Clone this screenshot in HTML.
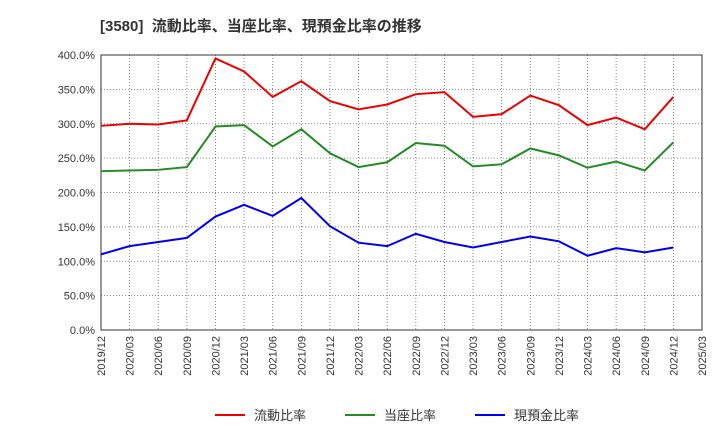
<!DOCTYPE html>
<html><head><meta charset="utf-8"><style>
body{margin:0;background:#fff;font-family:"Liberation Sans","Noto Sans CJK JP",sans-serif;}
</style></head><body>
<svg id="c" width="720" height="440" xmlns="http://www.w3.org/2000/svg">
<text x="100" y="31" font-size="15" font-weight="bold" fill="#333" style="white-space:pre" font-family="Liberation Sans, Noto Sans CJK JP, sans-serif">[3580]  流動比率、当座比率、現預金比率の推移</text>
<g id="grid"></g><g id="axes"></g><g id="series"></g>
<g font-size="13" font-family="Liberation Sans, Noto Sans CJK JP, sans-serif" fill="#333">
<line x1="215" y1="415" x2="245" y2="415" stroke="#e00" stroke-width="2"/><text x="254" y="420">流動比率</text>
<line x1="345" y1="415" x2="375" y2="415" stroke="#228b22" stroke-width="2"/><text x="384" y="420">当座比率</text>
<line x1="475" y1="415" x2="505" y2="415" stroke="#00e" stroke-width="2"/><text x="514" y="420">現預金比率</text>
</g>
</svg>
<script>
const categories=["2019/12","2020/03","2020/06","2020/09","2020/12","2021/03","2021/06","2021/09","2021/12","2022/03","2022/06","2022/09","2022/12","2023/03","2023/06","2023/09","2023/12","2024/03","2024/06","2024/09","2024/12","2025/03"];
const currentRatio=[297,300,299,305,395,376,339,362,333,321,328,343,346,310,314,341,327,298,309,292,339];
const quickRatio=[231,232,233,237,296,298,267,292,257,237,244,272,268,238,241,264,254,236,245,232,273];
const cashRatio=[110,122,128,134,165,182,166,192,151,127,122,140,128,120,128,136,129,108,119,113,120];
const yTicks=[0,50,100,150,200,250,300,350,400];
const L=101,R=702,T=55,B=330;
const x=i=>L+i*(R-L)/(categories.length-1);
const y=v=>B-(v/400)*(B-T);
const NS="http://www.w3.org/2000/svg";
function mk(p,t,a){const e=document.createElementNS(NS,t);for(const k in a)e.setAttribute(k,a[k]);p.appendChild(e);return e;}
const g=document.getElementById('grid'),ax=document.getElementById('axes'),s=document.getElementById('series');
yTicks.forEach(v=>{
 const l=mk(g,'line',{x1:L,x2:R,y1:y(v),y2:y(v),stroke:'#666','stroke-width':0.8,'stroke-dasharray':'1,2'});
 
 
 const t=mk(ax,'text',{x:L-6,y:y(v)+4,'text-anchor':'end','font-size':11,fill:'#333'});t.textContent=v.toFixed(1)+'%';
 
 
});
categories.forEach((c,i)=>{
 const l=mk(g,'line',{x1:x(i),x2:x(i),y1:T,y2:B,stroke:'#666','stroke-width':0.8,'stroke-dasharray':'1,2'});
 
 
 const t=mk(ax,'text',{transform:`translate(${x(i)+4},${B+6}) rotate(-90)`,'text-anchor':'end','font-size':11,fill:'#333'});t.textContent=c;
 
 
});
const f=mk(ax,'rect',{x:L,y:T,width:R-L,height:B-T,fill:'none',stroke:'#333','stroke-width':1});


[[currentRatio,'#e00','current-ratio-line'],[quickRatio,'#228b22','quick-ratio-line'],[cashRatio,'#00e','cash-ratio-line']].forEach(([d,c,n])=>{
 const p=mk(s,'polyline',{points:d.map((v,i)=>x(i)+','+y(v)).join(' '),fill:'none',stroke:c,'stroke-width':2});
 
 
});
</script>
</body></html>
